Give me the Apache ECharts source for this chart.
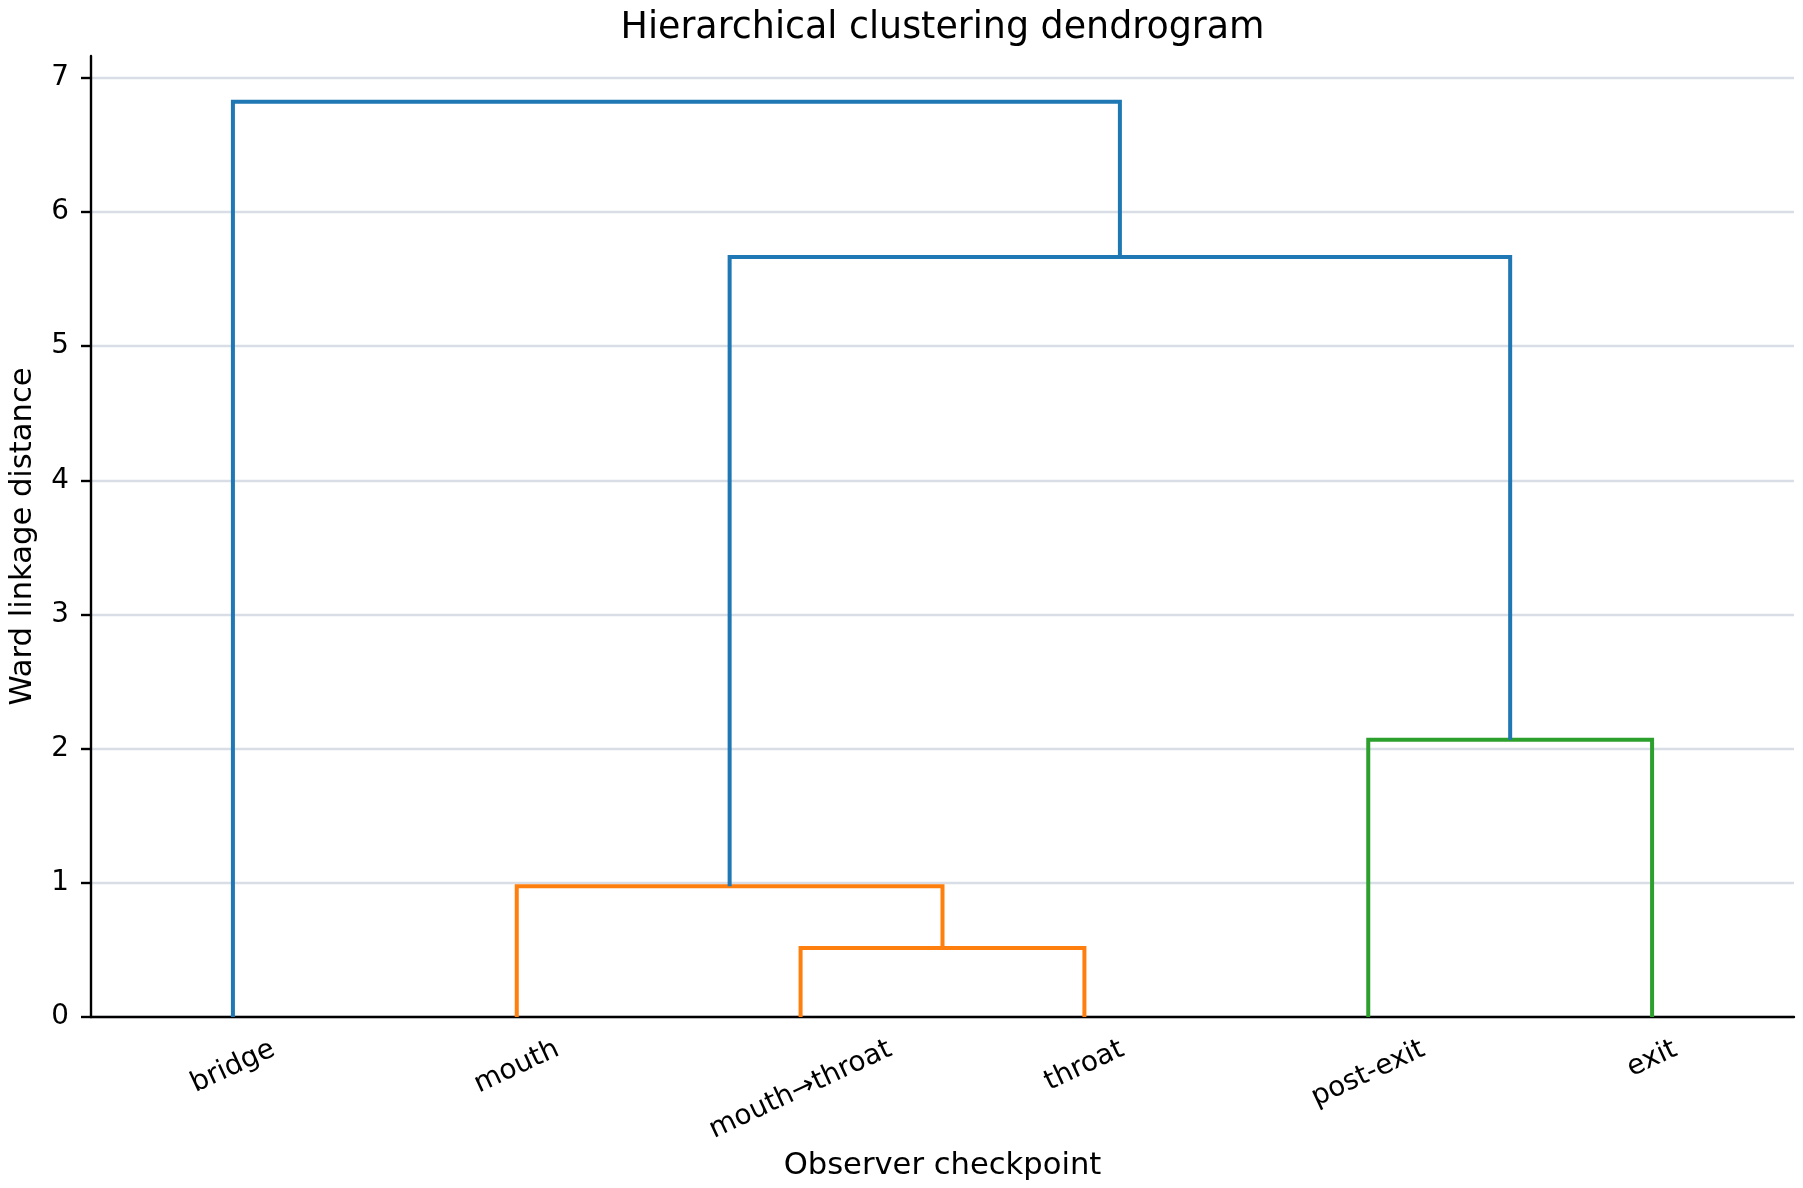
<!DOCTYPE html>
<html>
<head>
<meta charset="utf-8">
<title>Hierarchical clustering dendrogram</title>
<script src="https://cdn.jsdelivr.net/npm/echarts@6.0.0/dist/echarts.min.js"></script>
<style>
    html, body { margin: 0; padding: 0; background: #fff; }
    #chart { width: 1803px; height: 1188px; }
</style>
</head>
<body>
<div id="chart"></div>
<script>
// leaves in dendrogram order, left to right
const leafNames = ["bridge", "mouth", "mouth→throat", "throat", "post-exit", "exit"];
// linkage rows: ids >= leafNames.length point at earlier rows
const mergePairs = [[2, 3], [1, 6], [4, 5], [7, 8], [0, 9]];
const mergeHeights = [0.515, 0.975, 2.067, 5.664, 6.821];
const yTickValues = [0, 1, 2, 3, 4, 5, 6, 7];

const FONT = '"DejaVu Sans", sans-serif';
const LABEL_ROTATE = 25;
const TICK_FONT = 27.8;

const n = leafNames.length;
const nodeX = leafNames.map((_, i) => 5 + 10 * i);
const nodeH = leafNames.map(() => 0);
mergePairs.forEach(([a, b], k) => {
    nodeX.push((nodeX[a] + nodeX[b]) / 2);
    nodeH.push(mergeHeights[k]);
});
const maxHeight = Math.max(...mergeHeights);
const yMax = maxHeight * 1.05;

// scipy style colouring: each subtree under 0.7*max gets its own colour
const threshold = 0.7 * maxHeight;
const palette = ["#ff7f0e", "#2ca02c", "#d62728", "#9467bd", "#8c564b"];
const aboveColor = "#1f77b4";
const linkColor = mergeHeights.map(() => aboveColor);
const parentOf = (id) => mergePairs.findIndex(p => p.includes(id));
const paint = (id, color) => {
    if (id < n) return;
    linkColor[id - n] = color;
    mergePairs[id - n].forEach(c => paint(c, color));
};
mergeHeights
    .map((h, k) => k)
    .filter(k => {
        const p = parentOf(n + k);
        return mergeHeights[k] < threshold && (p < 0 || mergeHeights[p] >= threshold);
    })
    .sort((a, b) => nodeX[n + a] - nodeX[n + b])
    .forEach((k, i) => paint(n + k, palette[i % palette.length]));

const linkSeries = mergePairs.map(([a, b], k) => ({
    type: "line",
    data: [
        [nodeX[a], nodeH[a]],
        [nodeX[a], mergeHeights[k]],
        [nodeX[b], mergeHeights[k]],
        [nodeX[b], nodeH[b]]
    ],
    symbol: "none",
    silent: true,
    z: 5,
    lineStyle: { color: linkColor[k], width: 4, cap: "butt", join: "miter" }
}));

// rotated leaf labels: push each one down by half of its slanted height,
// so the rotated box hangs under the axis like matplotlib does it
const ctx = document.createElement("canvas").getContext("2d");
ctx.font = TICK_FONT + "px " + FONT;
const rad = LABEL_ROTATE * Math.PI / 180;
const leafRich = {};
leafNames.forEach((name, i) => {
    const d = ctx.measureText(name).width * Math.sin(rad) / 2;
    leafRich["l" + i] = {
        fontSize: TICK_FONT,
        fontFamily: FONT,
        color: "#000",
        padding: [2 * d * Math.cos(rad), 2 * d * Math.sin(rad), 0, 0]
    };
});

const title = "Hierarchical clustering dendrogram";
ctx.font = "36.4px " + FONT;
const titleWidth = ctx.measureText(title).width;

const gridLeft = 91;
const gridRight = 9;
const gridTop = 56;
const gridBottom = 171;
const plotCenter = gridLeft + (1803 - gridLeft - gridRight) / 2;

const chart = echarts.init(document.getElementById("chart"), null, { renderer: "canvas" });
chart.setOption({
    backgroundColor: "#fff",
    animation: false,
    textStyle: { fontFamily: FONT },
    title: {
        text: title,
        left: plotCenter - titleWidth / 2,
        top: 11,
        padding: 0,
        textStyle: { fontSize: 36.4, fontWeight: "normal", color: "#000", fontFamily: FONT }
    },
    grid: {
        left: gridLeft,
        right: gridRight,
        top: gridTop,
        bottom: gridBottom,
        containLabel: false,
        outerBoundsMode: "none"
    },
    xAxis: {
        type: "value",
        min: 0,
        max: 10 * n,
        name: "Observer checkpoint",
        nameLocation: "middle",
        nameGap: 132,
        nameTextStyle: { fontSize: 30.6, color: "#000", fontFamily: FONT },
        axisLine: { show: true, onZero: false, lineStyle: { color: "#000", width: 2.4 } },
        axisTick: { show: false },
        splitLine: { show: false },
        axisLabel: {
            customValues: nodeX.slice(0, n),
            rotate: LABEL_ROTATE,
            align: "center",
            verticalAlign: "middle",
            margin: 31,
            formatter: (value) => {
                const i = nodeX.indexOf(value);
                return i >= 0 && i < n ? "{l" + i + "|" + leafNames[i] + "}" : "";
            },
            rich: leafRich
        }
    },
    yAxis: {
        type: "value",
        min: 0,
        max: yMax,
        interval: 1,
        name: "Ward linkage distance",
        nameLocation: "middle",
        nameGap: 52,
        nameTextStyle: { fontSize: 30.6, color: "#000", fontFamily: FONT },
        axisLine: { show: true, lineStyle: { color: "#000", width: 2.4 } },
        axisTick: {
            show: true,
            customValues: yTickValues,
            length: 10,
            lineStyle: { color: "#000", width: 2.4 }
        },
        axisLabel: {
            customValues: yTickValues,
            fontSize: TICK_FONT,
            color: "#000",
            margin: 22,
            fontFamily: FONT,
            formatter: (v) => String(v)
        },
        splitLine: {
            show: true,
            lineStyle: { color: "#d9dde6", width: 2.4 }
        }
    },
    series: linkSeries
});
window.addEventListener("resize", () => chart.resize());
</script>
</body>
</html>
